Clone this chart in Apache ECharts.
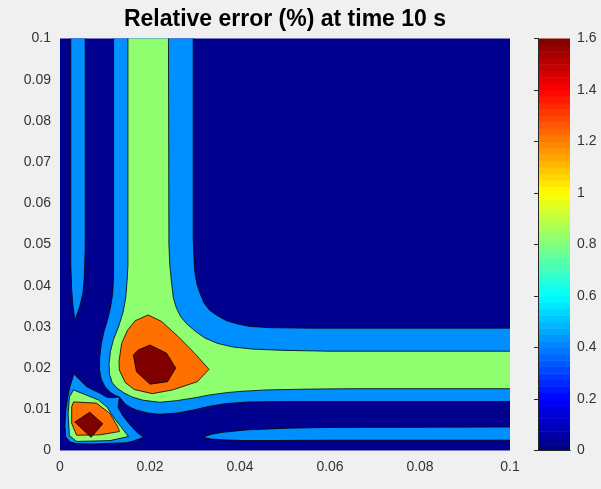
<!DOCTYPE html>
<html><head><meta charset="utf-8">
<script src="https://cdn.jsdelivr.net/npm/echarts@6/dist/echarts.min.js"></script>
<style>html,body{margin:0;padding:0;background:#f0f0f0}#c{width:601px;height:489px}</style>
</head><body><div id="c"></div>
<script>
// ---- text / ticks ----
const titleText = 'Relative error (%) at time 10 s';
const xTickStep = 0.02;
const yTickStep = 0.01;
const cbarTickStep = 0.2;

// ---- contour levels and their fill colours (jet colormap) ----
const levels = [0, 0.4, 0.8, 1.2, 1.6];
const levelColors = ['#00008F', '#008FFF', '#8FFF70', '#FF7000', '#800000'];

// ---- contour regions [x, y] (data units) ----
// level >= 0.4
const blueStripLeft = [[0.0024,0.102],[0.0024,0.045],[0.0026,0.039],[0.0029,0.035],[0.0032,0.0325],[0.0033,0.0315],[0.0036,0.0325],[0.0044,0.035],[0.0051,0.0382],[0.0054,0.0422],[0.0056,0.049],[0.0056,0.102]];
const blueL = [[0.0119,0.102],[0.0119,0.042],[0.0117,0.038],[0.0112,0.0345],[0.0105,0.0315],[0.0098,0.029],[0.0092,0.026],[0.0088,0.0225],[0.0088,0.0195],[0.0092,0.0172],[0.0100,0.0155],[0.0112,0.0141],[0.0124,0.0133],[0.0132,0.013],[0.0145,0.0113],[0.0158,0.0104],[0.017,0.0098],[0.0195,0.0091],[0.0222,0.0088],[0.026,0.0091],[0.0296,0.0098],[0.033,0.0107],[0.037,0.0114],[0.042,0.0118],[0.05,0.0119],[0.102,0.0119],
  [0.102,0.0297],[0.0556,0.0297],[0.047,0.0298],[0.0422,0.0301],[0.0395,0.0307],[0.037,0.0315],[0.035,0.0327],[0.0333,0.034],[0.032,0.0358],[0.0311,0.0382],[0.0304,0.0405],[0.030,0.043],[0.0298,0.046],[0.0296,0.051],[0.0296,0.102]];
const blueTriangle = [[0.0031,0.0186],[0.0045,0.017],[0.0059,0.0155],[0.0075,0.0146],[0.0089,0.0139],[0.0104,0.0129],[0.0118,0.0128],[0.0132,0.013],[0.0129,0.0105],[0.0135,0.0093],[0.0141,0.0082],[0.015,0.007],[0.0159,0.0058],[0.0172,0.0043],[0.0186,0.0032],[0.016,0.0022],[0.0148,0.0019],[0.0074,0.0016],[0.0035,0.0017],[0.0022,0.0021],[0.0013,0.0033],[0.0011,0.0058],[0.0012,0.008],[0.0013,0.0098],[0.0017,0.0128],[0.0022,0.0155]];
const blueStripBottom = [[0.0317,0.0032],[0.0335,0.0039],[0.036,0.0044],[0.0415,0.005],[0.05,0.0054],[0.06,0.0056],[0.102,0.0057],[0.102,0.0025],[0.06,0.0025],[0.0415,0.0024],[0.036,0.0026],[0.0335,0.0028]];
// level >= 0.8
const greenL = [[0.0151,0.102],[0.0151,0.045],[0.0149,0.041],[0.0146,0.037],[0.014,0.0335],[0.013,0.03],[0.0119,0.027],[0.0112,0.024],[0.0109,0.021],[0.011,0.0185],[0.0116,0.0165],[0.0126,0.0152],[0.0142,0.014],[0.016,0.013],[0.0185,0.0122],[0.0222,0.0117],[0.0259,0.0121],[0.03,0.0128],[0.0333,0.0135],[0.0375,0.0141],[0.0407,0.0144],[0.046,0.0147],[0.055,0.0149],[0.065,0.015],[0.102,0.015],
  [0.102,0.0241],[0.06,0.0241],[0.05,0.0243],[0.043,0.0246],[0.0385,0.0251],[0.035,0.026],[0.0322,0.0273],[0.03,0.029],[0.0281,0.0308],[0.0268,0.0325],[0.0259,0.0345],[0.0252,0.037],[0.0248,0.0406],[0.0244,0.045],[0.0242,0.05],[0.0241,0.102]];
const greenTriangle = [[0.003,0.0147],[0.0055,0.0136],[0.0085,0.0123],[0.0105,0.0105],[0.0118,0.0082],[0.0135,0.0058],[0.0152,0.0034],[0.0111,0.0024],[0.0037,0.0022],[0.0021,0.0036],[0.0018,0.009],[0.0021,0.013]];
// level >= 1.2
const orangeMain = [[0.0196,0.0329],[0.0226,0.0313],[0.0263,0.0276],[0.03,0.0235],[0.0331,0.0197],[0.0305,0.0167],[0.025,0.0147],[0.0205,0.0138],[0.0165,0.0148],[0.0145,0.0165],[0.0132,0.0195],[0.0131,0.0215],[0.0137,0.026],[0.015,0.0292],[0.0167,0.0315]];
const orangeTriangle = [[0.003,0.0118],[0.0081,0.0115],[0.0111,0.009],[0.013,0.0054],[0.0132,0.0046],[0.0089,0.0038],[0.0037,0.0037],[0.0026,0.0066],[0.0026,0.0106]];
// level >= 1.6
const redMain = [[0.02,0.0256],[0.0237,0.0236],[0.0257,0.02],[0.0239,0.0167],[0.02,0.0161],[0.017,0.0191],[0.0163,0.0232],[0.0174,0.0244]];
const redTriangle = [[0.0066,0.0093],[0.0095,0.0065],[0.0069,0.0032],[0.0033,0.0069]];

// draw order: low levels first
const regionShapes = [blueStripLeft, blueL, blueTriangle, blueStripBottom, greenL, greenTriangle, orangeMain, orangeTriangle, redMain, redTriangle];
const regionLevels = [1, 1, 1, 1, 2, 2, 3, 3, 4, 4];

// ---- jet colormap (64 entries) for the colorbar ----
function jet(t) {
  const c = v => Math.max(0, Math.min(1, v));
  const r = c(1.5 - Math.abs(4 * t - 3));
  const g = c(1.5 - Math.abs(4 * t - 2));
  const b = c(1.5 - Math.abs(4 * t - 1));
  return 'rgb(' + [r, g, b].map(v => Math.round(v * 255)).join(',') + ')';
}
const nColors = 64;
const cbarMax = levels[levels.length - 1];
const cbarBins = [];
for (let i = 0; i < nColors; i++) cbarBins.push([i * cbarMax / nColors, (i + 1) * cbarMax / nColors, (i + 0.5) / nColors]);

const fmt = v => String(+(+v).toFixed(3));
const labelStyle = { color: '#333333', fontSize: 14, fontFamily: 'Liberation Sans, Arial, sans-serif' };

const chart = echarts.init(document.getElementById('c'), null, { renderer: 'canvas' });
chart.setOption({
  backgroundColor: '#f0f0f0',
  animation: false,
  title: {
    text: titleText, left: 285, top: 8, padding: 0, textAlign: 'center',
    textStyle: { fontSize: 23, fontWeight: 'bold', color: '#000', fontFamily: 'Liberation Sans, Arial, sans-serif' }
  },
  grid: [
    { left: 60, top: 38.5, width: 450, height: 412, show: true, backgroundColor: levelColors[0], borderWidth: 0 },
    { left: 538, top: 38.5, width: 32, height: 412, show: false }
  ],
  xAxis: [
    { gridIndex: 0, type: 'value', min: 0, max: 0.1, interval: xTickStep,
      axisLine: { show: false }, axisTick: { show: false }, splitLine: { show: false },
      axisLabel: Object.assign({ margin: 10, formatter: fmt }, labelStyle) },
    { gridIndex: 1, type: 'value', min: 0, max: 1, position: 'bottom', z: 10,
      axisLine: { show: true, lineStyle: { color: '#262626', width: 1 } }, axisTick: { show: false },
      axisLabel: { show: false }, splitLine: { show: false } },
    { gridIndex: 1, type: 'value', min: 0, max: 1, position: 'top', z: 10,
      axisLine: { show: true, lineStyle: { color: '#262626', width: 1 } }, axisTick: { show: false },
      axisLabel: { show: false }, splitLine: { show: false } }
  ],
  yAxis: [
    { gridIndex: 0, type: 'value', min: 0, max: 0.1, interval: yTickStep,
      axisLine: { show: false }, axisTick: { show: false }, splitLine: { show: false },
      axisLabel: Object.assign({ margin: 9, formatter: fmt }, labelStyle) },
    { gridIndex: 1, type: 'value', min: 0, max: cbarMax, interval: cbarTickStep, position: 'right', z: 10,
      axisLine: { show: true, lineStyle: { color: '#262626', width: 1 } },
      axisTick: { show: true, inside: true, length: 4, lineStyle: { color: '#262626' } },
      splitLine: { show: false },
      axisLabel: Object.assign({ margin: 7, formatter: fmt }, labelStyle) },
    { gridIndex: 1, type: 'value', min: 0, max: cbarMax, position: 'left', z: 10,
      axisLine: { show: true, lineStyle: { color: '#262626', width: 1 } },
      axisTick: { show: false }, axisLabel: { show: false }, splitLine: { show: false } }
  ],
  series: [
    {
      type: 'custom', xAxisIndex: 0, yAxisIndex: 0, clip: true, silent: true,
      data: regionShapes.map((s, i) => [i]),
      encode: { x: -1, y: -1 },
      renderItem: function (params, api) {
        const idx = params.dataIndex;
        const pts = regionShapes[idx].map(p => api.coord(p));
        return {
          type: 'polygon',
          shape: { points: pts },
          style: { fill: levelColors[regionLevels[idx]], stroke: '#000', lineWidth: 0.8, lineJoin: 'round' }
        };
      }
    },
    {
      type: 'custom', xAxisIndex: 1, yAxisIndex: 1, silent: true,
      data: cbarBins,
      encode: { x: -1, y: [0, 1] },
      renderItem: function (params, api) {
        const lo = api.value(0), hi = api.value(1), t = api.value(2);
        const p0 = api.coord([0, lo]);
        const p1 = api.coord([1, hi]);
        return {
          type: 'rect',
          shape: { x: p0[0], y: p1[1], width: p1[0] - p0[0], height: p0[1] - p1[1] + 0.5 },
          style: { fill: jet(t) }
        };
      }
    }
  ]
});
</script>
</body></html>
